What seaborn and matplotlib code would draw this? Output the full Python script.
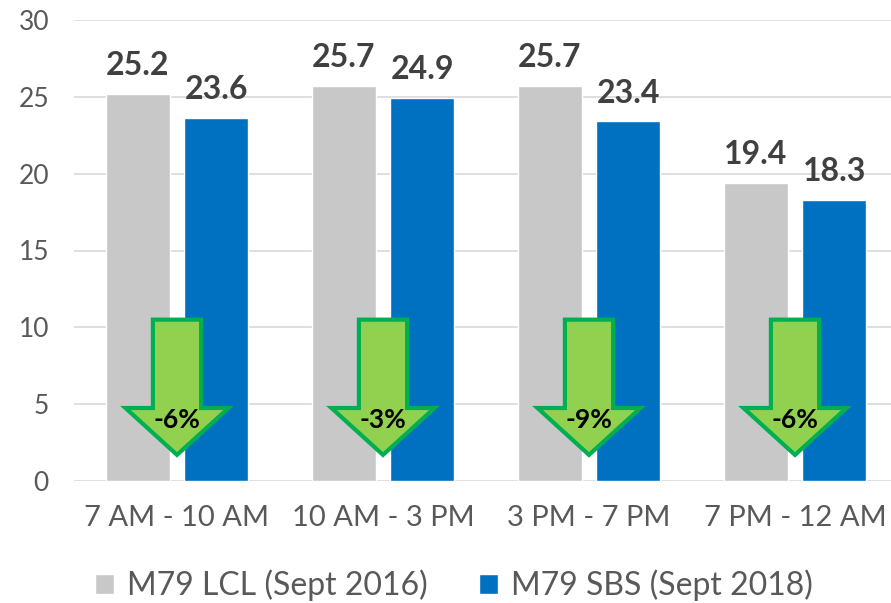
import pandas as pd
import matplotlib
matplotlib.use("Agg")
import matplotlib.pyplot as plt
import seaborn as sns
from matplotlib.patches import Polygon

periods = ["7 AM - 10 AM", "10 AM - 3 PM", "3 PM - 7 PM", "7 PM - 12 AM"]
lcl_2016 = [25.2, 25.7, 25.7, 19.4]
sbs_2018 = [23.6, 24.9, 23.4, 18.3]
changes = ["-6%", "-3%", "-9%", "-6%"]
series_names = ["M79 LCL (Sept 2016)", "M79 SBS (Sept 2018)"]

df = pd.DataFrame({
    "period": periods * 2,
    "speed": lcl_2016 + sbs_2018,
    "series": [series_names[0]] * 4 + [series_names[1]] * 4,
})

sns.set_style("white")
plt.rcParams["font.family"] = ["Lato", "DejaVu Sans"]

fig = plt.figure(figsize=(8.91, 6.03), dpi=100)
ax = fig.add_axes([74 / 891, 1 - 481 / 603, 817 / 891, 461 / 603])

sns.barplot(data=df, x="period", y="speed", hue="series",
            palette=["#C8C8C8", "#0070C0"], width=0.76, gap=0.18,
            saturation=1, ax=ax, legend=True)

ax.set_ylim(0, 30)
ax.set_xlim(-0.5, -0.5 + 817 / 206)
ax.set_yticks(range(0, 31, 5))
ax.yaxis.grid(True, color="#D9D9D9", linewidth=1.2)
ax.set_axisbelow(True)
for s in ax.spines.values():
    s.set_visible(False)
ax.set_xlabel("")
ax.set_ylabel("")
ax.tick_params(axis="both", length=0, colors="#595959")
ax.tick_params(axis="y", labelsize=19, pad=18)
ax.tick_params(axis="x", labelsize=21, pad=17)

for cont in ax.containers:
    ax.bar_label(cont, fmt="%.1f", padding=10, fontsize=23,
                 fontweight="bold", color="#404040")

# green down arrows with percent change
for i, lab in enumerate(changes):
    sw, hw = 0.117, 0.25
    top, base, tip = 10.5, 4.75, 1.7
    pts = [(i - sw, top), (i + sw, top), (i + sw, base), (i + hw, base),
           (i, tip), (i - hw, base), (i - sw, base)]
    ax.add_patch(Polygon(pts, closed=True, facecolor="#92D050",
                         edgecolor="#00B050", linewidth=3, zorder=5))
    ax.text(i, 4.0, lab, ha="center", va="center", fontsize=19,
            fontweight="bold", color="black", zorder=6)

ax.legend(loc="upper center", bbox_to_anchor=(0.465, -0.13), ncol=2,
          frameon=False, fontsize=23, handlelength=0.6, handleheight=0.6,
          columnspacing=1.6, handletextpad=0.4, labelcolor="#595959")

fig.savefig("out.png", dpi=100)
